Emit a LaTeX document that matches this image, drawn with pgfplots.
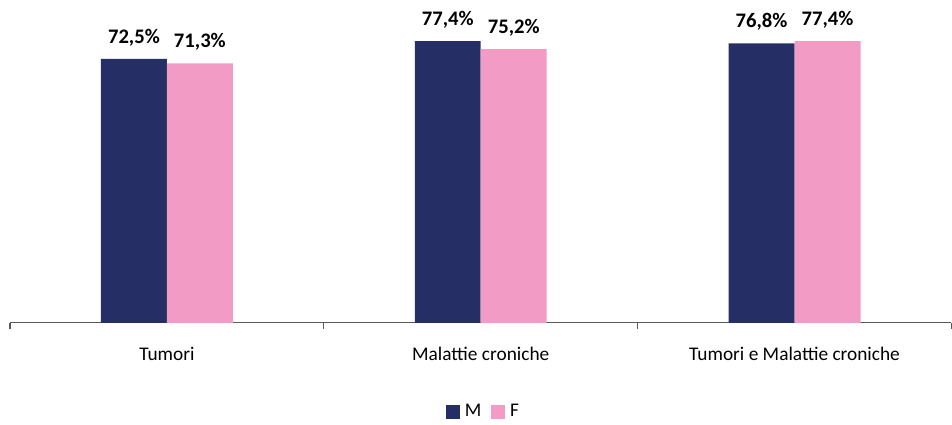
\documentclass[border=0pt]{standalone}
\usepackage{fontspec}
\setmainfont{Carlito}
\usepackage{pgfplots}
\pgfplotsset{compat=1.18}

\definecolor{navyM}{HTML}{262E66}
\definecolor{pinkF}{HTML}{F29BC4}
\newcommand{\lbl}{\fontsize{14.5}{17}\selectfont}
\newcommand{\vlbl}{\fontsize{15.5}{18}\selectfont}

\begin{document}
\begin{tikzpicture}
  \begin{axis}[
    name = ax,
    scale only axis,
    width = 706.5pt,
    height = 242.25pt,
    xmin = -0.5, xmax = 2.5,
    ymin = 0, ymax = 88.7,
    axis x line* = bottom,
    axis y line = none,
    x axis line style = {black!65, line width = 0.8pt, -},
    ybar = 0pt,
    bar width = 49.5pt,
    xtick = {0,1,2},
    xticklabels = {Tumori, Malattie croniche, Tumori e Malattie croniche},
    major x tick style = {draw = none},
    minor xtick = {-0.5,0.5,1.5,2.5},
    minor x tick style = {black!65, line width = 0.8pt},
    minor tick length = 4.5pt,
    tick align = outside,
    xticklabel style = {font = \lbl, yshift = -10.5pt},
    clip = false,
    /pgf/number format/assume math mode = true,
    nodes near coords = {\pgfmathprintnumber[fixed, fixed zerofill, precision=1, use comma]{\pgfplotspointmeta}\%},
    every node near coord/.append style = {font = \vlbl\bfseries, yshift = 6pt, text = black},
    legend style = {
      at = {(0.503, -0.315)}, anchor = south,
      draw = none, font = \lbl,
      legend columns = 2,
      /tikz/every even column/.append style = {column sep = 5pt},
      /tikz/every odd column/.append style = {column sep = 2pt},
    },
    legend image code/.code = {\fill[#1] (0pt,-5.25pt) rectangle (10.5pt,5.25pt);},
  ]
    \addplot[fill = navyM, draw = none] coordinates { (0,72.5) (1,77.4) (2,76.8) };
    \addlegendentry{M}
    \addplot[fill = pinkF, draw = none] coordinates { (0,71.3) (1,75.2) (2,77.4) };
    \addlegendentry{F}
  \end{axis}
  \path[use as bounding box] ([xshift=-7.5pt, yshift=-72pt]ax.south west) rectangle (ax.north east);
\end{tikzpicture}
\end{document}
